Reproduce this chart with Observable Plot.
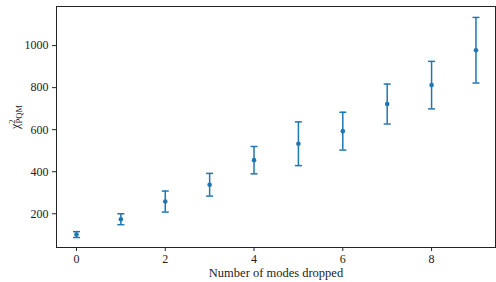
<!DOCTYPE html>
<html>
<head>
<meta charset="utf-8">
<script src="https://cdn.jsdelivr.net/npm/d3@7"></script>
<script src="https://cdn.jsdelivr.net/npm/@observablehq/plot@0.6"></script>
<style>
  body { margin: 0; background: #fff; }
  svg { font-family: "Liberation Serif", "DejaVu Serif", serif; }
</style>
</head>
<body>
<div id="chart"></div>
<script>
const modesDropped = [0, 1, 2, 3, 4, 5, 6, 7, 8, 9];
const chi2Mean = [101, 174, 258, 338, 455, 533, 593, 722, 812, 978];
const chi2Err = [14, 26, 50, 54, 65, 104, 90, 95, 113, 156];
const xTicks = [0, 2, 4, 6, 8];
const yTicks = [200, 400, 600, 800, 1000];

const data = modesDropped.map((m, i) => ({x: m, y: chi2Mean[i], lo: chi2Mean[i] - chi2Err[i], hi: chi2Mean[i] + chi2Err[i]}));

const blue = "#1f77b4";
const capSymbol = { draw(ctx, size) { const w = 3.5; ctx.moveTo(-w, 0); ctx.lineTo(w, 0); } };

const chart = Plot.plot({
  width: 496,
  height: 282,
  marginLeft: 56,
  marginRight: 1,
  marginTop: 6,
  marginBottom: 35,
  style: { fontFamily: "Liberation Serif, serif", fontSize: "12px", color: "#222" },
  x: { domain: [-0.45, 9.44], label: null },
  y: { domain: [39.5, 1186], label: null },
  marks: [
    Plot.frame({ stroke: "#222", strokeWidth: 1 }),
    Plot.axisX({ ticks: xTicks, tickSize: 4, tickPadding: 3, label: null, fontSize: 12, tickFormat: d3.format("d") }),
    Plot.axisY({ ticks: yTicks, tickSize: 4, tickPadding: 4, label: null, fontSize: 12, tickFormat: d3.format("d") }),
    Plot.ruleX(data, { x: "x", y1: "lo", y2: "hi", stroke: blue, strokeWidth: 1.5 }),
    Plot.dot(data, { x: "x", y: "lo", symbol: capSymbol, r: 3, stroke: blue, strokeWidth: 1.5, fill: "none" }),
    Plot.dot(data, { x: "x", y: "hi", symbol: capSymbol, r: 3, stroke: blue, strokeWidth: 1.5, fill: "none" }),
    Plot.dot(data, { x: "x", y: "y", r: 2.3, fill: blue, stroke: "none" }),
    Plot.text(["Number of modes dropped"], { frameAnchor: "bottom", dy: 29, fontSize: 12.5, fill: "#222" })
  ]
});

const svg = d3.select(chart);
const lab = svg.append("text")
  .attr("transform", "translate(19,117) rotate(-90)")
  .attr("text-anchor", "middle")
  .attr("fill", "#222")
  .attr("font-size", 12);
lab.append("tspan").text("χ");
lab.append("tspan").attr("dy", -4).attr("font-size", 8.5).text("2");
lab.append("tspan").attr("dx", -4).attr("dy", 7).attr("font-size", 8.5).text("PQM");

document.getElementById("chart").appendChild(chart);
</script>
</body>
</html>
